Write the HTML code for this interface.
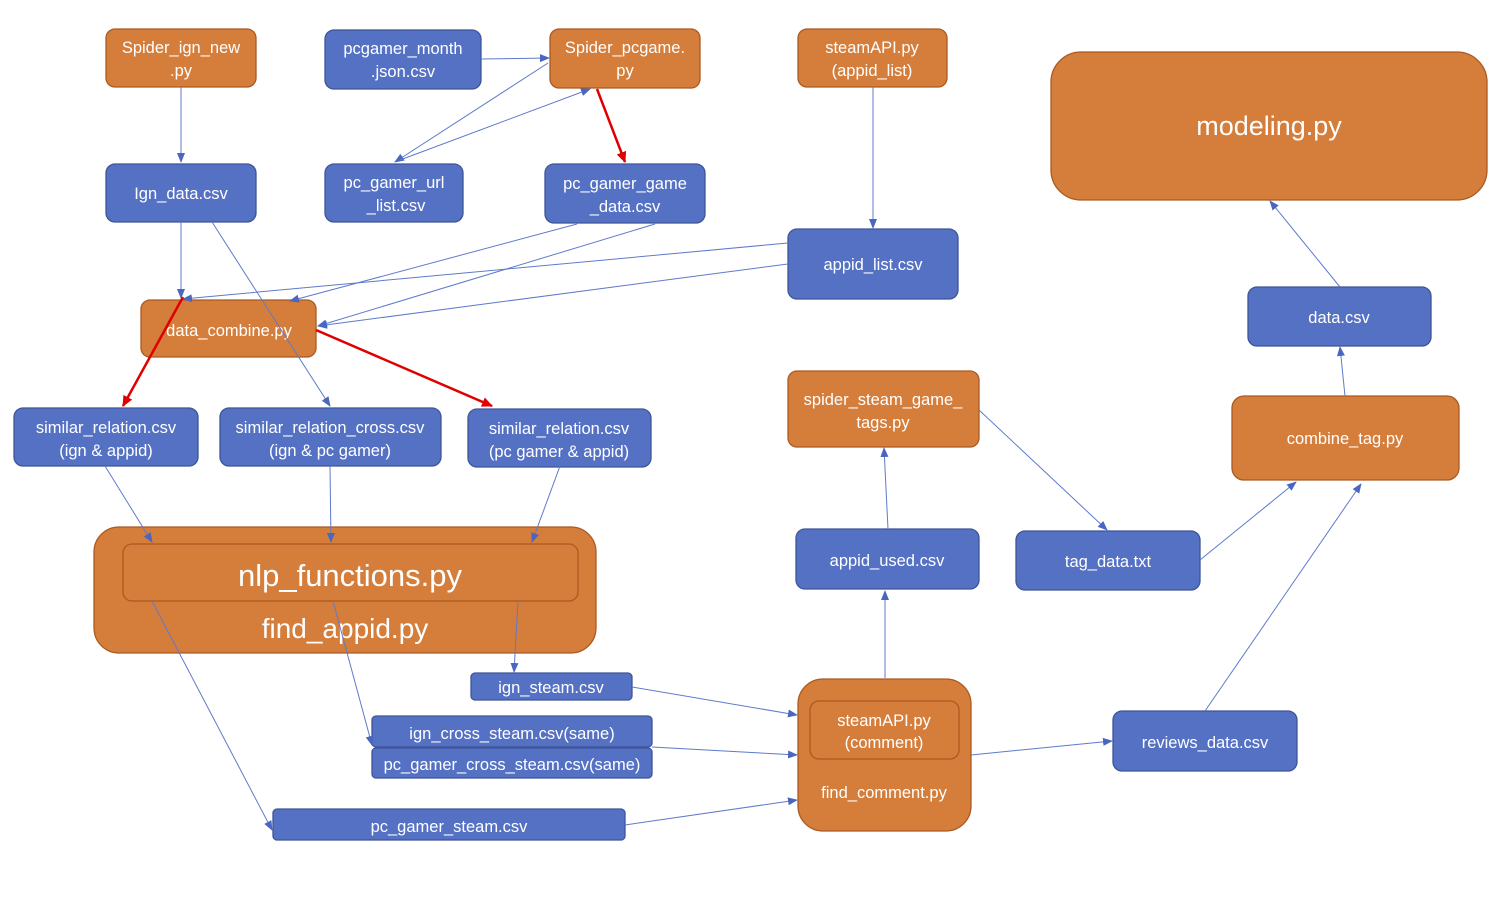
<!DOCTYPE html>
<html><head><meta charset="utf-8"><style>
html,body{margin:0;padding:0;background:#fff;}
svg{display:block;}
text{font-family:"Liberation Sans",sans-serif;fill:#fff;text-anchor:middle;font-size:16.5px;}
.o{fill:#D57D3A;stroke:#AB5A22;stroke-width:1.3;}
.b{fill:#5471C4;stroke:#3E5598;stroke-width:1.3;}
.l{stroke:#5F7ACB;stroke-width:1;fill:none;}
.r{stroke:#E00000;stroke-width:2.5;fill:none;}
</style></head><body>
<svg width="1511" height="916" viewBox="0 0 1511 916" xmlns="http://www.w3.org/2000/svg">
<defs>
<marker id="a" markerWidth="10" markerHeight="10" refX="9" refY="5" orient="auto" markerUnits="userSpaceOnUse"><path d="M0,1 L10,5 L0,9 z" fill="#4A66C0"/></marker>
<marker id="ar" markerWidth="12" markerHeight="12" refX="10" refY="6" orient="auto" markerUnits="userSpaceOnUse"><path d="M0,1 L11,6 L0,11 z" fill="#E00000"/></marker>
</defs>
<rect class="o" x="106" y="29" width="150" height="58" rx="9"/>
<text x="181" y="53">Spider_ign_new</text><text x="181" y="76">.py</text>
<rect class="b" x="325" y="30" width="156" height="59" rx="9"/>
<text x="403" y="54">pcgamer_month</text><text x="403" y="77">.json.csv</text>
<rect class="o" x="550" y="29" width="150" height="59" rx="9"/>
<text x="625" y="53">Spider_pcgame.</text><text x="625" y="76">py</text>
<rect class="o" x="798" y="29" width="149" height="58" rx="9"/>
<text x="872" y="53">steamAPI.py</text><text x="872" y="76">(appid_list)</text>
<rect class="o" x="1051" y="52" width="436" height="148" rx="30"/>
<text x="1269" y="135" style="font-size:27px">modeling.py</text>
<rect class="b" x="106" y="164" width="150" height="58" rx="9"/>
<text x="181" y="199">Ign_data.csv</text>
<rect class="b" x="325" y="164" width="138" height="58" rx="9"/>
<text x="394" y="188">pc_gamer_url</text><text x="396" y="211">_list.csv</text>
<rect class="b" x="545" y="164" width="160" height="59" rx="9"/>
<text x="625" y="189">pc_gamer_game</text><text x="625" y="212">_data.csv</text>
<rect class="b" x="788" y="229" width="170" height="70" rx="9"/>
<text x="873" y="270">appid_list.csv</text>
<rect class="b" x="1248" y="287" width="183" height="59" rx="9"/>
<text x="1339" y="323">data.csv</text>
<rect class="o" x="141" y="300" width="175" height="57" rx="9"/>
<text x="229" y="336">data_combine.py</text>
<rect class="o" x="788" y="371" width="191" height="76" rx="9"/>
<text x="883" y="405">spider_steam_game_</text><text x="883" y="428">tags.py</text>
<rect class="o" x="1232" y="396" width="227" height="84" rx="12"/>
<text x="1345" y="444">combine_tag.py</text>
<rect class="b" x="14" y="408" width="184" height="58" rx="9"/>
<text x="106" y="433">similar_relation.csv</text><text x="106" y="456">(ign &amp; appid)</text>
<rect class="b" x="220" y="408" width="221" height="58" rx="9"/>
<text x="330" y="433">similar_relation_cross.csv</text><text x="330" y="456">(ign &amp; pc gamer)</text>
<rect class="b" x="468" y="409" width="183" height="58" rx="9"/>
<text x="559" y="434">similar_relation.csv</text><text x="559" y="457">(pc gamer &amp; appid)</text>
<rect class="o" x="94" y="527" width="502" height="126" rx="25"/>
<rect class="o" x="123" y="544" width="455" height="57" rx="9"/>
<text x="350" y="586" style="font-size:31px">nlp_functions.py</text>
<text x="345" y="638" style="font-size:28px">find_appid.py</text>
<rect class="b" x="796" y="529" width="183" height="60" rx="9"/>
<text x="887" y="566">appid_used.csv</text>
<rect class="b" x="1016" y="531" width="184" height="59" rx="9"/>
<text x="1108" y="567">tag_data.txt</text>
<rect class="b" x="471" y="673" width="161" height="27" rx="4"/>
<text x="551" y="693">ign_steam.csv</text>
<rect class="o" x="798" y="679" width="173" height="152" rx="25"/>
<rect class="o" x="810" y="701" width="149" height="58" rx="9"/>
<text x="884" y="726">steamAPI.py</text><text x="884" y="748">(comment)</text>
<text x="884" y="798">find_comment.py</text>
<rect class="b" x="372" y="716" width="280" height="31" rx="4"/>
<text x="512" y="739">ign_cross_steam.csv(same)</text>
<rect class="b" x="372" y="748" width="280" height="30" rx="4"/>
<text x="512" y="770">pc_gamer_cross_steam.csv(same)</text>
<rect class="b" x="1113" y="711" width="184" height="60" rx="9"/>
<text x="1205" y="748">reviews_data.csv</text>
<rect class="b" x="273" y="809" width="352" height="31" rx="4"/>
<text x="449" y="832">pc_gamer_steam.csv</text>
<g class="l" marker-end="url(#a)">
<line x1="181" y1="87" x2="181" y2="162"/>
<line x1="481" y1="59" x2="549" y2="58"/>
<line x1="548" y1="63" x2="395" y2="162"/>
<line x1="400" y1="160" x2="590" y2="89"/>
<line x1="873" y1="87" x2="873" y2="228"/>
<line x1="181" y1="222" x2="181" y2="298"/>
<line x1="212" y1="222" x2="330" y2="406"/>
<line x1="577" y1="224" x2="290" y2="301"/>
<line x1="655" y1="224" x2="318" y2="326"/>
<line x1="788" y1="243" x2="183" y2="299"/>
<line x1="788" y1="264" x2="318" y2="326"/>
<line x1="105" y1="466" x2="152" y2="542"/>
<line x1="330" y1="466" x2="331" y2="542"/>
<line x1="560" y1="466" x2="532" y2="542"/>
<line x1="518" y1="601" x2="514" y2="672"/>
<line x1="333" y1="601" x2="372" y2="745"/>
<line x1="152" y1="601" x2="272" y2="830"/>
<line x1="632" y1="687" x2="797" y2="715"/>
<line x1="652" y1="747" x2="797" y2="755"/>
<line x1="625" y1="825" x2="797" y2="800"/>
<line x1="885" y1="678" x2="885" y2="591"/>
<line x1="888" y1="529" x2="884" y2="448"/>
<line x1="979" y1="410" x2="1107" y2="530"/>
<line x1="971" y1="755" x2="1112" y2="741"/>
<line x1="1205" y1="711" x2="1361" y2="484"/>
<line x1="1200" y1="560" x2="1296" y2="482"/>
<line x1="1345" y1="396" x2="1340" y2="347"/>
<line x1="1340" y1="287" x2="1270" y2="201"/>
</g>
<g class="r" marker-end="url(#ar)">
<line x1="597" y1="89" x2="625" y2="162"/>
<line x1="183" y1="297" x2="123" y2="406"/>
<line x1="316" y1="330" x2="492" y2="406"/>
</g>
</svg>
</body></html>
